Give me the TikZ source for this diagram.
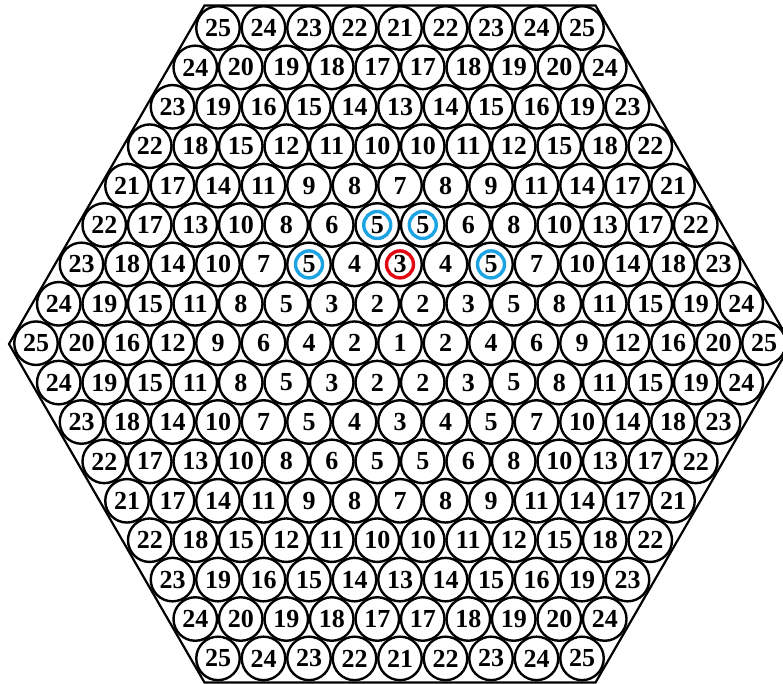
\documentclass[tikz,border=0pt]{standalone}
\usepackage{fontspec}
\setmainfont{Liberation Serif}
\usetikzlibrary{positioning}
\definecolor{ringblue}{HTML}{1BA3E3}
\definecolor{ringred}{HTML}{E30613}

\begin{document}
\begin{tikzpicture}[x=1pt, y=-1pt,
  cell/.style={circle, draw, line width=2.4pt, minimum size=43.5pt, inner sep=0pt,
    font=\fontsize{26}{26}\selectfont\bfseries},
  ring/.style={circle, draw=#1, line width=3.4pt, minimum size=27pt, inner sep=0pt},
  frame/.style={draw, line width=2.2pt, line join=miter}
]
  \useasboundingbox (0,0) rectangle (783,684);
  % outer hexagon
  \draw[frame] (9,344) -- (204.5,5.5) -- (595.5,5.5) -- (791,344) -- (595.5,682.5) -- (204.5,682.5) -- cycle;
  % rows of rods, top to bottom
  \foreach \vals [count=\r] in {
    {25,24,23,22,21,22,23,24,25},
    {24,20,19,18,17,17,18,19,20,24},
    {23,19,16,15,14,13,14,15,16,19,23},
    {22,18,15,12,11,10,10,11,12,15,18,22},
    {21,17,14,11,9,8,7,8,9,11,14,17,21},
    {22,17,13,10,8,6,5,5,6,8,10,13,17,22},
    {23,18,14,10,7,5,4,3,4,5,7,10,14,18,23},
    {24,19,15,11,8,5,3,2,2,3,5,8,11,15,19,24},
    {25,20,16,12,9,6,4,2,1,2,4,6,9,12,16,20,25},
    {24,19,15,11,8,5,3,2,2,3,5,8,11,15,19,24},
    {23,18,14,10,7,5,4,3,4,5,7,10,14,18,23},
    {22,17,13,10,8,6,5,5,6,8,10,13,17,22},
    {21,17,14,11,9,8,7,8,9,11,14,17,21},
    {22,18,15,12,11,10,10,11,12,15,18,22},
    {23,19,16,15,14,13,14,15,16,19,23},
    {24,20,19,18,17,17,18,19,20,24},
    {25,24,23,22,21,22,23,24,25}}{
    \pgfmathtruncatemacro\n{17-abs(\r-9)}
    \foreach \v [count=\k] in \vals {
      \node[cell] (c\r-\k) at ({400+(\k-(\n+1)/2)*45.5}, {28+(\r-1)*39.4}) {\v};
    }
  }
  % marked rods
  \node[ring=ringblue] (b1) at (c6-7) {};
  \node[ring=ringblue] (b2) at (c6-8) {};
  \node[ring=ringblue] (b3) at (c7-6) {};
  \node[ring=ringblue] (b4) at (c7-10) {};
  \node[ring=ringred] (rd) at (c7-8) {};
\end{tikzpicture}
\end{document}
